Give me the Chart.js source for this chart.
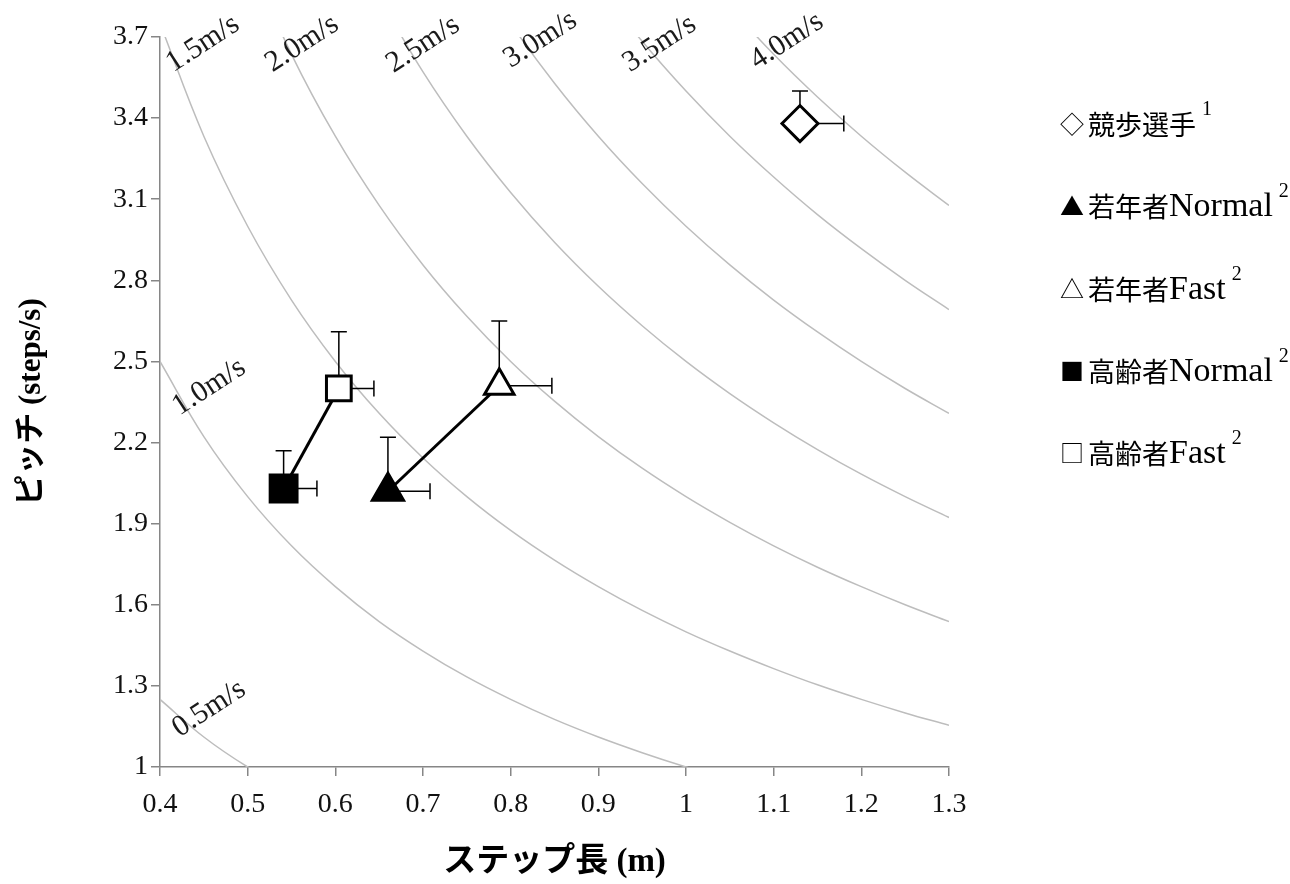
<!DOCTYPE html>
<html>
<head>
<meta charset="utf-8">
<script src="https://cdn.jsdelivr.net/npm/chart.js@4.4.1/dist/chart.umd.min.js"></script>
<style>
  html, body { margin: 0; padding: 0; background: #fff; }
  canvas { display: block; }
</style>
</head>
<body>
<canvas id="chart" width="1290" height="884"></canvas>
<script>
// ---- DATA ----

// iso-speed curves: step length samples and the pitch
var stepGrid = [0.4, 0.45, 0.5, 0.55, 0.6, 0.65, 0.7, 0.75, 0.8, 0.85, 0.9,
  0.95, 1.0, 1.05, 1.1, 1.15, 1.2, 1.25, 1.3]
var curve05 = [1.25, 1.111, 1.0, 0.909]
var curve10 = [2.5, 2.222, 2.0, 1.818, 1.667, 1.538, 1.429, 1.333, 1.25, 1.176,
  1.111, 1.053, 1.0, 0.952]
var curve15 = [3.75, 3.333, 3.0, 2.727, 2.5, 2.308, 2.143, 2.0, 1.875, 1.765,
  1.667, 1.579, 1.5, 1.429, 1.364, 1.304, 1.25, 1.2, 1.154]
var curve20 = [null, null, 4.0, 3.636, 3.333, 3.077, 2.857, 2.667, 2.5, 2.353,
  2.222, 2.105, 2.0, 1.905, 1.818, 1.739, 1.667, 1.6, 1.538]
var curve25 = [null, null, null, null, null, 3.846, 3.571, 3.333, 3.125, 2.941,
  2.778, 2.632, 2.5, 2.381, 2.273, 2.174, 2.083, 2.0, 1.923]
var curve30 = [null, null, null, null, null, null, null, 4.0, 3.75, 3.529,
  3.333, 3.158, 3.0, 2.857, 2.727, 2.609, 2.5, 2.4, 2.308]
var curve35 = [null, null, null, null, null, null, null, null, null, null,
  3.889, 3.684, 3.5, 3.333, 3.182, 3.043, 2.917, 2.8, 2.692]
var curve40 = [null, null, null, null, null, null, null, null, null, null,
  null, null, null, 3.81, 3.636, 3.478, 3.333, 3.2, 3.077]
var curves = [curve05, curve10, curve15, curve20, curve25, curve30, curve35, curve40]
var curveNames = ['0.5m/s', '1.0m/s', '1.5m/s', '2.0m/s', '2.5m/s', '3.0m/s',
  '3.5m/s', '4.0m/s']

// groups: mean step length (m), mean pitch (steps/s), SD of each
var seriesNames = ['競歩選手', '若年者Normal', '若年者Fast', '高齢者Normal', '高齢者Fast']
var seriesNotes = ['1', '2', '2', '2', '2']
var stepMean = [1.13, 0.66, 0.787, 0.541, 0.604]
var pitchMean = [3.38, 2.02, 2.41, 2.03, 2.40]
var stepSD = [0.05, 0.048, 0.06, 0.038, 0.04]
var pitchSD = [0.12, 0.20, 0.24, 0.14, 0.21]

var xTicks = [0.4, 0.5, 0.6, 0.7, 0.8, 0.9, 1, 1.1, 1.2, 1.3]
var yTicks = [1, 1.3, 1.6, 1.9, 2.2, 2.5, 2.8, 3.1, 3.4, 3.7]

// ---- STYLE ----
var serif = '"Liberation Serif", "Times New Roman", serif'
var cjk = '"Noto Sans CJK JP", sans-serif'
var axisGray = '#868686'

// where each curve label sits (data coords) and marker look per group
var curveLabelPos = [[0.456, 1.215], [0.456, 2.405], [0.449, 3.675], [0.562, 3.675],
  [0.700, 3.672], [0.834, 3.69], [0.970, 3.675], [1.115, 3.685]]
var markStyle = [
  { pointStyle: 'rectRot', r: 18, fill: '#fff' },
  { pointStyle: 'triangle', r: 18, fill: '#000' },
  { pointStyle: 'triangle', r: 17, fill: '#fff' },
  { pointStyle: 'rect', r: 19, fill: '#000' },
  { pointStyle: 'rect', r: 17.5, fill: '#fff' }
]
var legendMarks = ['◇', '▲', '△', '■', '□']

// ---- DATASETS ----
var datasets = []

// markers first so they end up on top
seriesNames.forEach(function(name, i) {
  datasets.push({
    label: name,
    data: [{ x: stepMean[i], y: pitchMean[i] }],
    pointStyle: markStyle[i].pointStyle,
    pointRadius: markStyle[i].r,
    pointHoverRadius: markStyle[i].r,
    pointBackgroundColor: markStyle[i].fill,
    pointBorderColor: '#000',
    pointBorderWidth: 3,
    showLine: false
  })
})

// Normal -> Fast links (young, elderly)
var LINK_YOUNG = datasets.length
datasets.push({
  data: [1, 2].map(i => ({ x: stepMean[i], y: pitchMean[i] })),
  showLine: true, borderColor: '#000', borderWidth: 3, pointRadius: 0
})
datasets.push({
  data: [3, 4].map(i => ({ x: stepMean[i], y: pitchMean[i] })),
  showLine: true, borderColor: '#000', borderWidth: 3, pointRadius: 0
})

curves.forEach(function(c) {
  let pts = []
  c.forEach((v, j) => { if (v !== null) pts.push({ x: stepGrid[j], y: v }) })
  datasets.push({
    data: pts,
    showLine: true,
    borderColor: '#bdbdbd',
    borderWidth: 1.5,
    pointRadius: 0,
    tension: 0.4
  })
})

// ---- PLUGIN: error bars, curve labels, legend ----
var extras = {
  id: 'extras',
  afterDatasetDraw(chart, args) {
    // error bars go after the links and before the markers
    if (args.index !== LINK_YOUNG) return
    let ctx = chart.ctx, xs = chart.scales.x, ys = chart.scales.y
    ctx.save()
    ctx.strokeStyle = '#000'
    ctx.lineWidth = 1.5
    stepMean.forEach((m, i) => {
      let px = xs.getPixelForValue(m), py = ys.getPixelForValue(pitchMean[i])
      let ex = xs.getPixelForValue(m + stepSD[i])
      let ey = ys.getPixelForValue(pitchMean[i] + pitchSD[i])
      ctx.beginPath()
      ctx.moveTo(px, py); ctx.lineTo(ex, py)
      ctx.moveTo(ex, py - 8); ctx.lineTo(ex, py + 8)
      ctx.moveTo(px, py); ctx.lineTo(px, ey)
      ctx.moveTo(px - 8, ey); ctx.lineTo(px + 8, ey)
      ctx.stroke()
    })
    ctx.restore()
  },
  afterDraw(chart) {
    let ctx = chart.ctx, xs = chart.scales.x, ys = chart.scales.y
    ctx.save()

    // curve labels
    ctx.fillStyle = '#1a1a1a'
    ctx.font = '30px ' + serif
    ctx.textAlign = 'center'
    ctx.textBaseline = 'middle'
    curveNames.forEach((t, i) => {
      ctx.save()
      ctx.translate(xs.getPixelForValue(curveLabelPos[i][0]),
        ys.getPixelForValue(curveLabelPos[i][1]))
      ctx.rotate(-33 * Math.PI / 180)
      ctx.fillText(t, 0, 0)
      ctx.restore()
    })

    // legend
    ctx.textAlign = 'left'
    ctx.textBaseline = 'alphabetic'
    ctx.fillStyle = '#000'
    seriesNames.forEach((name, i) => {
      let x = 1060, y = 134 + i * 82.3
      let parts = name.match(/^([^\x00-\x7f]*)(.*)$/)
      ctx.font = '24px ' + cjk
      ctx.fillText(legendMarks[i], x, y - 1)
      x += 28
      ctx.font = '27px ' + cjk
      ctx.fillText(parts[1], x, y + 1)
      x += ctx.measureText(parts[1]).width
      ctx.font = '34px ' + serif
      ctx.fillText(parts[2], x, y)
      x += ctx.measureText(parts[2]).width + 6
      ctx.font = '20px ' + serif
      ctx.fillText(seriesNotes[i], x, y - 19)
    })
    ctx.restore()
  }
}

// ---- CHART ----
function fmt(v) { return String(Math.round(v * 10) / 10) }

new Chart(document.getElementById('chart'), {
  type: 'scatter',
  data: { datasets: datasets },
  plugins: [extras],
  options: {
    responsive: false,
    animation: false,
    events: [],
    layout: { padding: { left: 0, top: 37, right: 341, bottom: 0 } },
    plugins: { legend: { display: false }, tooltip: { enabled: false } },
    scales: {
      x: {
        type: 'linear',
        min: 0.4, max: 1.3,
        afterFit: s => { s.height = 117 },
        afterBuildTicks: s => { s.ticks = xTicks.map(v => ({ value: v })) },
        ticks: { callback: fmt, color: '#111', padding: 12,
          font: { family: serif, size: 28 }, maxRotation: 0 },
        grid: { drawOnChartArea: false, tickLength: 9, color: axisGray, lineWidth: 1.5 },
        border: { color: axisGray, width: 1.5 },
        title: { display: true, text: 'ステップ長 (m)', color: '#000',
          font: { family: serif + ', ' + cjk, size: 33, weight: 'bold' },
          padding: { bottom: 2 } }
      },
      y: {
        type: 'linear',
        min: 1, max: 3.7,
        afterFit: s => { s.width = 160 },
        afterBuildTicks: s => { s.ticks = yTicks.map(v => ({ value: v })) },
        ticks: { callback: fmt, color: '#111', padding: 3,
          font: { family: serif, size: 28 } },
        grid: { drawOnChartArea: false, tickLength: 9, color: axisGray, lineWidth: 1.5 },
        border: { color: axisGray, width: 1.5 },
        title: { display: true, text: 'ピッチ (steps/s)', color: '#000',
          font: { family: serif + ', ' + cjk, size: 31, weight: 'bold' },
          padding: { top: 13 } }
      }
    }
  }
})
</script>
</body>
</html>
